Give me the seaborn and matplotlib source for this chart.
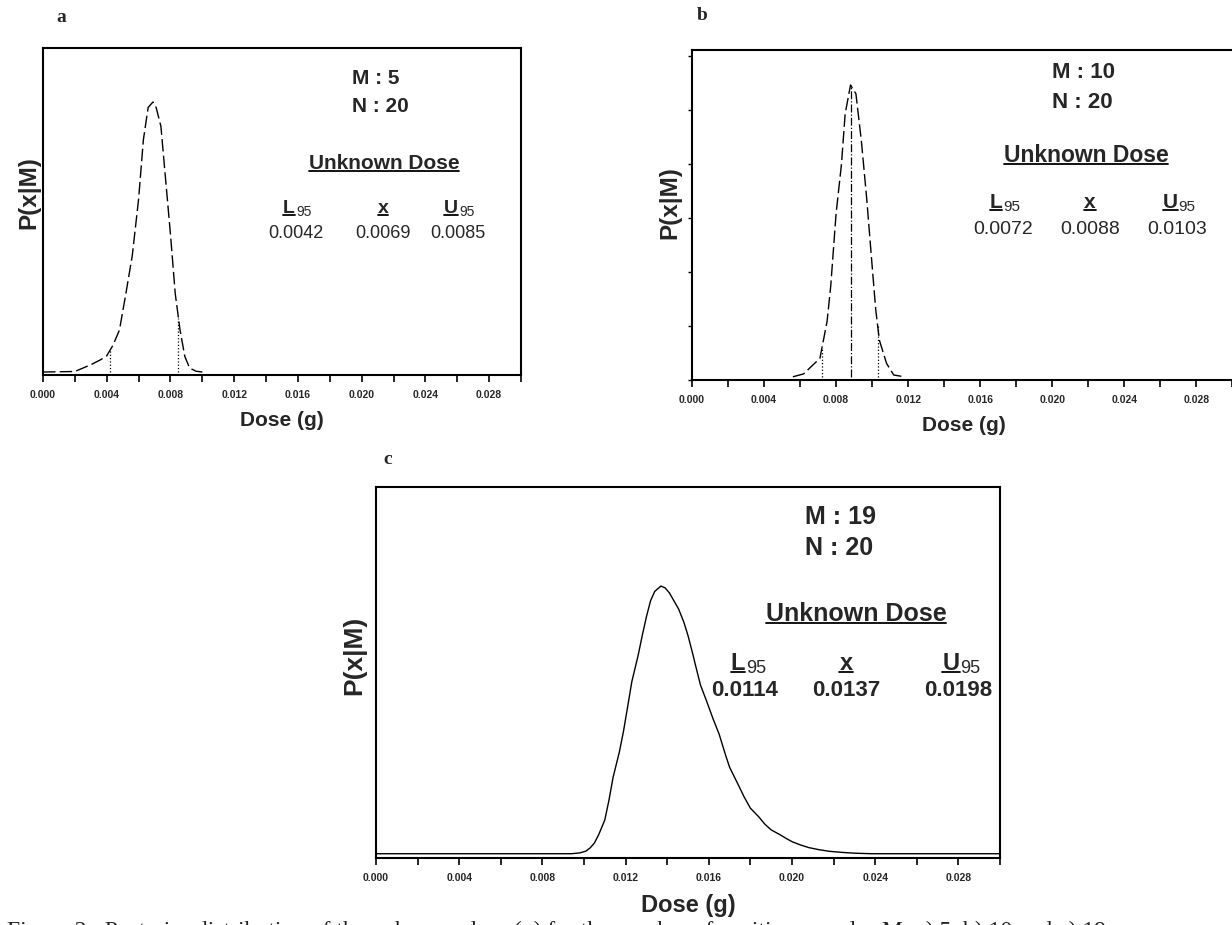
import numpy as np
import pandas as pd
import seaborn as sns
import matplotlib.pyplot as plt
from matplotlib.lines import Line2D
from matplotlib.ticker import MultipleLocator, NullFormatter

# ---- data (relative density, peak = 1) ----
dose_a = [0.0000, 0.0020, 0.0030, 0.0036, 0.0040, 0.0044, 0.0048, 0.0052, 0.0056,
          0.0060, 0.0063, 0.0066, 0.0069, 0.0071, 0.0074, 0.0077, 0.0080, 0.0083,
          0.0086, 0.0089, 0.0092, 0.0096, 0.0100]
dens_a = [0.0, 0.002, 0.027, 0.045, 0.06, 0.10, 0.156, 0.29, 0.43,
          0.64, 0.86, 0.98, 1.0, 0.98, 0.91, 0.71, 0.51, 0.29,
          0.156, 0.058, 0.015, 0.003, 0.0]

dose_b = [0.0056, 0.0062, 0.0066, 0.0071, 0.0075, 0.0077, 0.0080, 0.0083, 0.0085,
          0.0088, 0.0091, 0.0094, 0.0097, 0.0100, 0.0102, 0.0104, 0.0108, 0.0112, 0.0118]
dens_b = [0.0, 0.01, 0.034, 0.063, 0.19, 0.31, 0.56, 0.73, 0.90,
          1.0, 0.97, 0.81, 0.61, 0.38, 0.23, 0.126, 0.046, 0.006, 0.0]

dose_c = [0.0000, 0.0094, 0.0098, 0.0101, 0.0103, 0.0105, 0.0107, 0.0110, 0.0112,
          0.0114, 0.0117, 0.0119, 0.0121, 0.0123, 0.0126, 0.0128, 0.0130, 0.0132,
          0.0134, 0.0137, 0.0139, 0.0141, 0.0143, 0.01455, 0.0148, 0.0150, 0.0152,
          0.0154, 0.0156, 0.0159, 0.0162, 0.0165, 0.0168, 0.0170, 0.0174, 0.0177,
          0.0180, 0.0184, 0.0187, 0.0190, 0.0194, 0.0197, 0.0200, 0.0204, 0.0208,
          0.0213, 0.0218, 0.0224, 0.0230, 0.0238, 0.0300]
dens_c = [0.0, 0.0, 0.003, 0.01, 0.022, 0.04, 0.07, 0.126, 0.2,
          0.286, 0.38, 0.458, 0.55, 0.643, 0.74, 0.815, 0.885, 0.945,
          0.98, 1.0, 0.993, 0.975, 0.948, 0.914, 0.865, 0.815, 0.755,
          0.692, 0.63, 0.569, 0.505, 0.446, 0.37, 0.323, 0.26, 0.212,
          0.17, 0.138, 0.11, 0.089, 0.072, 0.058, 0.045, 0.033, 0.023,
          0.015, 0.009, 0.005, 0.002, 0.0, 0.0]

M_vals = [5, 10, 19]
N_vals = [20, 20, 20]
L95 = [0.0042, 0.0072, 0.0114]
xhat = [0.0069, 0.0088, 0.0137]
U95 = [0.0085, 0.0103, 0.0198]
panel_letters = ['a', 'b', 'c']
caption = ('Figure 2:  Posterior distribution of the unknown dose (g) for the number of '
           'positive samples M: a) 5, b) 10 and c) 19')

sns.set_theme(style='white')
plt.rcParams['font.family'] = ['Liberation Sans', 'DejaVu Sans']

W, H = 1232, 925
fig = plt.figure(figsize=(W / 100, H / 100), dpi=100)


def px_axes(l, t, r, b):
    return fig.add_axes([l / W, 1 - b / H, (r - l) / W, (b - t) / H])


def ftext(x, y, s, **kw):
    return fig.text(x / W, 1 - y / H, s, **kw)


ax_a = px_axes(43, 48, 521, 375)
ax_b = px_axes(692, 50, 1236, 380)
ax_c = px_axes(376, 487, 1000, 858)
axes = [ax_a, ax_b, ax_c]

curves = [pd.DataFrame({'dose': dose_a, 'dens': dens_a}),
          pd.DataFrame({'dose': dose_b, 'dens': dens_b}),
          pd.DataFrame({'dose': dose_c, 'dens': dens_c})]
ylims = [(-0.011, 1.20), (-0.011, 1.12), (-0.016, 1.37)]
styles = [(0, (9, 3)), (0, (9, 3)), '-']
xlab_size = [15, 15, 17]
ylab_size = [17.5, 17.5, 19]
ylab_pos = [(-0.006, 0.557), (-0.02, 0.538), (-0.015, 0.547)]

for i, (ax, df) in enumerate(zip(axes, curves)):
    sns.lineplot(data=df, x='dose', y='dens', ax=ax, color='black',
                 linewidth=1.0, linestyle=styles[i], estimator=None, sort=False)
    ax.set_xlim(0, 0.0302 if i == 1 else 0.030)
    ax.set_ylim(*ylims[i])
    ax.xaxis.set_major_locator(MultipleLocator(0.004))
    ax.xaxis.set_minor_locator(MultipleLocator(0.002))
    ax.xaxis.set_major_formatter(plt.FuncFormatter(lambda v, p: f'{v:.3f}'))
    ax.tick_params(axis='x', which='both', direction='out', length=5, width=1.2,
                   color='black', bottom=True, labelsize=7.5, pad=6)
    for lab in ax.get_xticklabels():
        lab.set_fontweight('bold')
    if i == 1:
        ax.set_yticks(np.linspace(ylims[1][0], 1.10, 7))
        ax.yaxis.set_major_formatter(NullFormatter())
        ax.tick_params(axis='y', direction='out', length=3, width=1.0,
                       color='black', left=True)
    else:
        ax.set_yticks([])
    for sp in ax.spines.values():
        sp.set_color('black')
        sp.set_linewidth(1.5)
    ax.set_xlabel('Dose (g)', fontsize=xlab_size[i], fontweight='bold', labelpad=8)
    ax.set_ylabel('P(x|M)', fontsize=ylab_size[i], fontweight='bold')
    ax.yaxis.set_label_coords(*ylab_pos[i])

    # credible interval markers
    if i < 2:
        for v in (L95[i], U95[i]):
            ax.vlines(v, 0, np.interp(v, df['dose'], df['dens']), colors='black',
                      linestyles=':', linewidth=0.9)
    if i == 1:
        ax.vlines(xhat[i], 0, np.interp(xhat[i], df['dose'], df['dens']),
                  colors='black', linestyles='-.', linewidth=0.9)

# ---- annotations (pixel positions) ----
mn_size = [15, 16, 18]
ud_size = [15, 16.5, 18]
hd_size = [14, 15, 17]
val_size = [13, 14, 16]
mn_x = [352, 1052, 805]
mn_y = [(79, 107), (73, 102), (517, 548)]
ud_xy = [(384, 169), (1086, 162), (856, 621)]
head_y = [213, 208, 670]
val_y = [233, 230, 691]
col_x = [(296, 383, 458), (1003, 1090, 1177), (745, 846, 958)]

underlined = []
subs = []
for i in range(3):
    ftext(mn_x[i], mn_y[i][0], f'M : {M_vals[i]}', fontsize=mn_size[i],
          fontweight='bold', va='center', ha='left')
    ftext(mn_x[i], mn_y[i][1], f'N : {N_vals[i]}', fontsize=mn_size[i],
          fontweight='bold', va='center', ha='left')
    t = ftext(*ud_xy[i], 'Unknown Dose', fontsize=ud_size[i], fontweight='bold',
              ha='center', va='baseline')
    underlined.append(t)
    heads = [('L', '95'), ('x', ''), ('U', '95')]
    vals = [L95[i], xhat[i], U95[i]]
    for cx, (hd, sb), v in zip(col_x[i], heads, vals):
        t = ftext(cx - (7 if sb else 0), head_y[i], hd, fontsize=hd_size[i],
                  fontweight='bold', ha='center', va='baseline')
        underlined.append(t)
        if sb:
            subs.append((t, sb, hd_size[i] - 4))
        ftext(cx, val_y[i], f'{v:.4f}', fontsize=val_size[i], ha='center', va='center',
              fontweight='bold' if i == 2 else 'normal')

fig.canvas.draw()
rend = fig.canvas.get_renderer()
inv = fig.transFigure.inverted()
for t in underlined:
    bb = t.get_window_extent(rend)
    (x0, _), (x1, _) = inv.transform([(bb.x0, bb.y0), (bb.x1, bb.y1)])
    yb = inv.transform((0, bb.y0 + (bb.y1 - bb.y0) * 0.22 - 2))[1]
    fig.add_artist(Line2D([x0, x1], [yb, yb], transform=fig.transFigure,
                          color='black', linewidth=1.3))
for t, sb, fs in subs:
    bb = t.get_window_extent(rend)
    x1, y0 = inv.transform((bb.x1 + 1, bb.y0 + (bb.y1 - bb.y0) * 0.22 - 3))
    fig.text(x1, y0, sb, fontsize=fs, ha='left', va='baseline')

# panel letters
for lab, (x, y) in zip(panel_letters, [(61, 17), (702, 16), (388, 460)]):
    ftext(x, y, lab, fontsize=14, fontweight='bold',
          family=['Liberation Serif', 'DejaVu Serif'], ha='center', va='center')

# caption, mostly cut by the lower edge as in the original
ftext(7, 921, caption, fontsize=17, family=['Liberation Serif', 'DejaVu Serif'],
      ha='left', va='top', color='#222222')

fig.savefig('out.png', dpi=100)
